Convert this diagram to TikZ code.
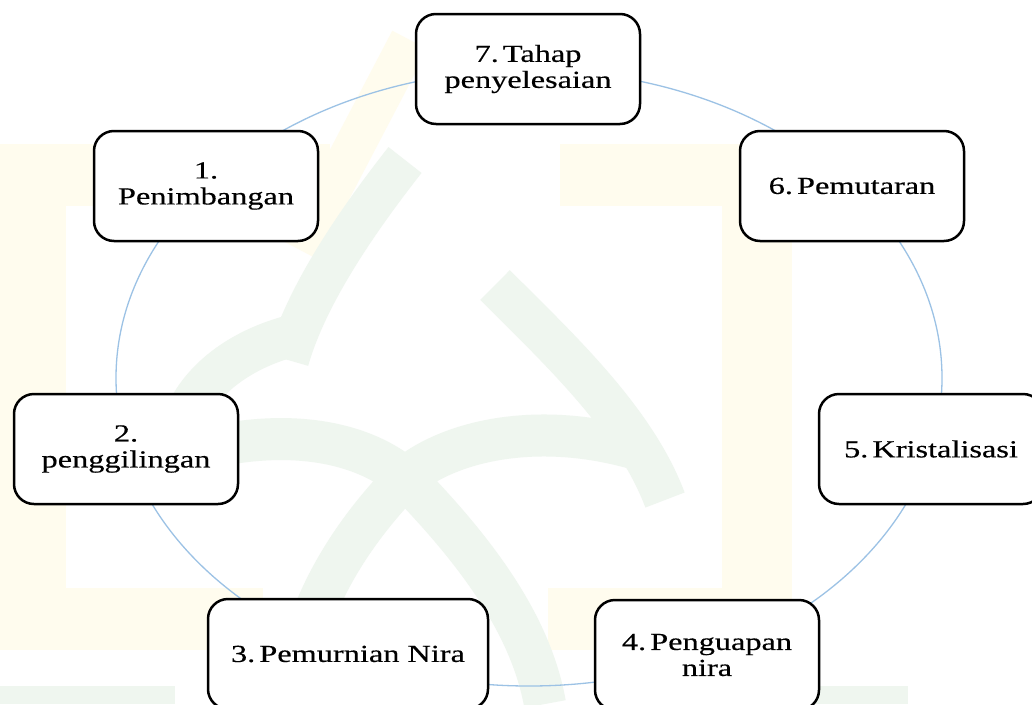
\documentclass[tikz,border=0pt]{standalone}
\usepackage{fontspec}
\setmainfont{Liberation Serif}[FakeStretch=1.32,FakeBold=0.4]
\definecolor{ring}{RGB}{156,194,229}
\definecolor{wmY}{RGB}{255,252,238}
\definecolor{wmG}{RGB}{239,246,239}
\begin{document}
\begin{tikzpicture}[x=1pt,y=-1pt,
  stage/.style={draw=black, line width=2.5pt, rounded corners=20pt, fill=white,
    minimum width=224pt, minimum height=110pt, align=center, inner sep=0pt,
    font=\fontsize{24.5pt}{26pt}\selectfont},
  wmband/.style={draw=wmG, line width=42pt}]
\useasboundingbox (0,0) rectangle (1032,704);
\fill[white] (0,0) rectangle (1032,704);
% faint watermark
\fill[wmY] (0,144) rectangle (66,650);
\fill[wmY] (0,144) rectangle (330,206);
\fill[wmY] (0,588) rectangle (263,650);
\fill[wmY] (548,588) rectangle (792,650);
\fill[wmY] (722,144) rectangle (792,650);
\fill[wmY] (560,144) rectangle (792,206);
\draw[wmY, line width=40pt] (300,250) -- (410,40);
\draw[wmband] (405,160) .. controls (350,230) and (305,300) .. (288,360);
\draw[wmband] (295,335) .. controls (235,350) and (195,385) .. (182,425);
\draw[wmband] (495,285) .. controls (560,350) and (635,420) .. (665,500);
\draw[wmband] (180,455) .. controls (280,425) and (360,440) .. (405,478)
  .. controls (450,440) and (540,420) .. (640,450);
\draw[wmband] (405,478) .. controls (340,545) and (300,620) .. (292,704);
\draw[wmband] (405,478) .. controls (470,545) and (530,620) .. (545,704);
\fill[wmG] (600,686) rectangle (908,704);
\fill[wmG] (0,686) rectangle (175,704);
% cycle ring
\coordinate (c) at (529,378);
\draw[ring, line width=1.3pt] (c) ellipse [x radius=413pt, y radius=308pt];
% stages
\node[stage] (s7) at (528,69) {7.\,Tahap\\penyelesaian};
\node[stage] (s1) at (206,186) {1.\\Penimbangan};
\node[stage] (s6) at (852,186) {6.\,Pemutaran};
\node[stage] (s2) at (126,449) {2.\\penggilingan};
\node[stage] (s5) at (931,449) {5.\,Kristalisasi};
\node[stage, minimum width=280pt] (s3) at (348,654) {3.\,Pemurnian Nira};
\node[stage] (s4) at (707,655) {4.\,Penguapan\\nira};
\end{tikzpicture}
\end{document}
